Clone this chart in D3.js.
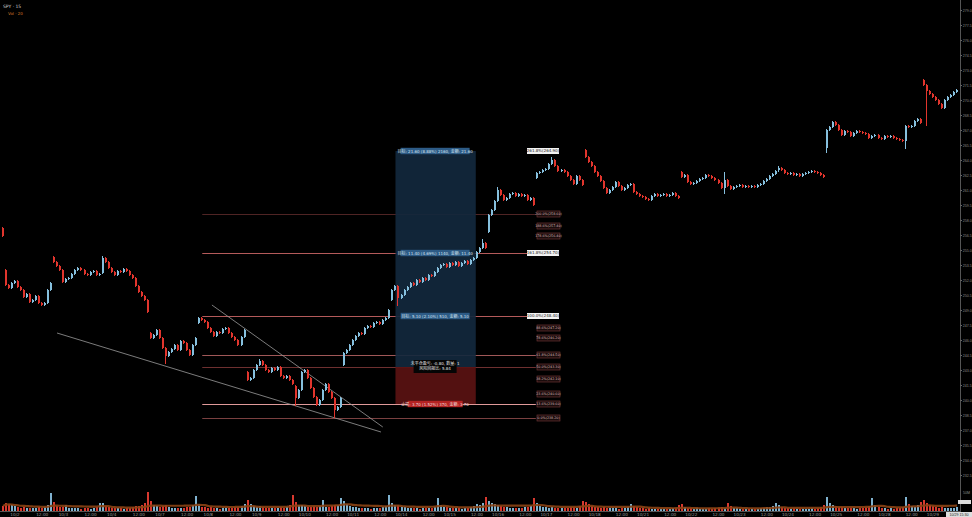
<!DOCTYPE html>
<html><head><meta charset="utf-8">
<script src="https://cdn.jsdelivr.net/npm/d3@7"></script>
<style>html,body{margin:0;padding:0;background:#000;overflow:hidden}svg{display:block}</style>
</head><body>
<svg id="c" width="972" height="517"></svg>
<script>
// ---------------- DATA ----------------
const closes = [
256.4,
251.5,251.2,251.7,251.9,251.3,251.0,250.3,250.6,249.8,250.0,250.4,249.7,249.5,249.7,251.0,251.7,
253.8,253.4,253.0,251.8,252.1,252.2,252.6,253.0,253.2,253.0,252.6,252.5,252.8,252.9,252.5,252.6,
254.2,253.8,253.2,252.8,252.5,252.9,252.8,253.1,252.9,252.5,252.2,251.4,250.8,250.4,250.0,248.8,
246.2,246.5,247.0,246.2,245.2,244.4,244.8,245.1,245.5,245.0,245.9,245.7,245.0,244.5,245.5,246.2,
248.2,248.0,247.8,247.2,246.8,246.4,246.8,246.7,247.1,247.2,246.7,246.3,246.0,245.5,246.3,247.0,
242.0,242.2,243.0,243.5,243.9,243.5,243.0,242.8,243.2,243.0,243.3,242.4,242.2,242.4,242.0,241.6,
240.2,241.0,242.8,243.0,242.2,241.2,240.3,239.5,240.0,241.0,241.6,240.8,240.2,239.0,239.3,240.2,
244.7,245.0,245.5,246.0,246.4,246.7,246.6,247.2,247.4,247.3,247.7,247.8,247.6,248.0,248.2,249.0,
251.0,251.4,250.2,250.5,251.0,251.3,251.7,251.5,252.0,251.8,252.2,252.0,252.5,252.4,252.8,253.2,
253.5,253.6,253.3,253.7,253.5,253.8,253.4,253.7,253.9,253.6,254.0,254.2,254.8,255.2,255.7,255.2,
258.5,259.0,259.9,261.0,260.5,260.0,260.2,260.6,260.7,260.4,260.6,260.4,260.5,260.0,260.2,259.5,
262.7,262.8,263.0,263.1,263.6,264.0,263.4,262.9,263.0,262.8,262.4,262.0,261.6,262.4,262.0,261.5,
264.3,263.8,263.4,262.8,262.4,261.9,261.2,260.7,261.0,261.3,261.8,261.4,261.0,261.2,261.5,261.6,
260.8,260.6,260.4,260.3,260.1,260.0,260.4,260.6,260.4,260.5,260.6,260.4,260.5,260.7,260.4,260.2,
262.3,262.5,261.8,261.6,261.7,261.9,262.1,262.2,262.5,262.4,262.2,262.0,261.7,261.2,262.0,261.4,
261.1,261.3,261.4,261.5,261.3,261.4,261.3,261.4,261.3,261.5,261.6,261.9,262.1,262.4,262.6,262.9,
263.2,263.0,262.7,262.6,262.7,262.5,262.6,262.4,262.6,262.7,262.8,262.9,262.8,262.7,262.5,262.3,
267.0,267.3,267.8,267.5,267.0,266.5,266.9,266.8,266.4,266.7,266.9,266.8,266.7,266.6,266.2,266.4,
266.5,266.2,266.1,266.4,266.3,266.4,266.2,266.1,266.0,265.9,267.4,267.3,267.4,267.9,268.1,267.7,
271.5,270.9,270.6,270.3,270.0,269.6,269.2,270.0,270.3,270.5,270.8,271.0
];
// index of first bar in each session and that bar's open
const sessionStarts = [0,1,17,33,49,65,81,97,113,129,145,161,177,193,209,225,241,257,273,289,305];
const sessionOpens  = [257.2,253.0,254.3,252.7,246.7,247.7,242.8,241.4,243.5,250.0,253.2,256.8,262.2,265.0,261.6,262.8,261.4,263.0,265.2,266.4,272.0];
// bars with visible long wicks: [index, high, low]
const wicks = [[33,254.3,252.7],[54,245.2,243.7],[85,244.0,243.5],[97,241.4,239.5],[110,240.2,238.3],
  [131,251.4,249.5],[159,256.0,255.2],[164,261.2,259.9],[182,264.2,263.6],[239,262.7,260.7],
  [257,263.3,262.9],[273,267.0,264.8],[299,267.4,265.2],[306,271.5,267.5]];
const volumes = [
20,
30,28,22,18,14,12,16,12,10,12,10,14,12,16,22,72,
34,20,16,14,24,12,10,12,10,8,12,10,8,10,14,32,
30,18,14,12,10,12,10,8,10,12,14,18,20,24,30,76,
40,24,18,16,20,22,14,12,10,12,10,12,14,16,22,60,
26,16,14,12,14,12,10,8,10,12,10,12,14,16,18,28,
44,26,20,16,18,14,12,10,12,10,12,14,12,16,22,64,
34,22,24,18,16,14,18,16,20,44,16,14,18,22,24,52,
40,26,20,16,14,12,10,12,10,8,10,12,10,14,20,64,
30,24,22,16,14,12,10,12,10,8,10,12,10,12,16,52,
24,16,14,12,10,12,10,8,10,12,14,18,28,24,30,56,
40,30,26,24,20,16,14,12,10,12,10,12,14,16,20,52,
30,20,16,14,12,14,12,10,12,10,12,14,16,12,18,40,
36,26,20,16,14,12,14,12,10,12,10,8,10,12,14,28,
20,14,12,10,8,10,8,6,8,6,8,6,8,10,12,24,
26,16,12,10,8,10,8,6,8,10,8,10,12,14,12,32,
18,12,10,8,6,8,6,8,6,8,10,12,14,16,18,32,
24,16,12,10,8,10,8,6,8,6,8,10,8,10,14,22,
56,32,24,20,16,14,12,10,12,10,8,10,12,14,18,52,
24,16,12,10,8,10,8,10,12,14,56,28,20,16,22,36,
44,30,22,18,14,12,14,12,10,12,10,14
];
const dateLabels = ["10/2","10/3","10/4","10/7","10/8","10/9","10/10","10/11","10/14","10/15",
  "10/16","10/17","10/18","10/21","10/22","10/23","10/24","10/25","10/28","10/29"];
const midLabel = "12:00";
const priceTicks = [279,277.5,276,274.5,273,271.5,270,268.5,267,265.5,264,262.5,261,259.5,258,256.5,
  255,253.5,252,250.5,249,247.5,246,244.5,243,241.5,240,238.5,237,235.5,234,232.5];
// fib levels
const fibPct    = [0,13.6,23.6,38.2,50,61.8,78.6,88.6,100,161.8,178.6,188.6,200,261.8];
const fibPrices = [238.2,239.6,240.6,242.1,243.3,244.5,246.2,247.2,248.4,254.7,256.4,257.4,258.6,264.9];
const fibLinePct = [0,13.6,50,61.8,100,161.8,200];
const fibMainPct = [100,161.8,261.8];
const fibRange = [66, 176.5];          // bar-index span of fib drawing
// trend lines [idxA, priceA, idxB, priceB]
const trendLines = [[17.9,246.7,125.2,236.8],[69.2,249.5,125.8,237.3]];
// long position tool
const posRange = [130, 156.6];
const entryPrice = 243.3, stopPrice = 239.6;
const targetPrices = [248.4, 254.7, 264.9];
const targetTexts = ["目标: 5.10 (2.10%) 510, 金额: 5.10","目标: 11.40 (4.69%) 1140, 金额: 11.40","目标: 21.60 (8.88%) 2160, 金额: 21.60"];
const stopText = "止损: 3.70 (1.52%) 370, 金额: 3.70";
const centerTexts = ["未平仓盈亏: -0.80, 数量: 1","风险回报比: 5.84"];

// ---------------- DRAW ----------------
const W = 972, H = 517;
const svg = d3.select("#c");
svg.append("rect").attr("width", W).attr("height", H).attr("fill", "#000");
const x = d3.scaleLinear().domain([0, 316]).range([3, 957]);
const y = d3.scaleLinear().domain([280, 232]).range([0, 480]);
const yv = d3.scaleLinear().domain([0, 90]).range([511, 488]);
const UP = "#86c0de", DN = "#e1352d";
const FONT = "'DejaVu Sans', 'Noto Sans CJK SC', sans-serif";
const AXF = "'Liberation Sans', Arial, sans-serif";
const AXX = 960.5;

const candles = closes.map((c, i) => {
  const k = sessionStarts.indexOf(i);
  const o = k >= 0 ? sessionOpens[k] : closes[i - 1];
  return { i, o, c, h: Math.max(o, c), l: Math.min(o, c), v: volumes[i] };
});
wicks.forEach(([i, h, l]) => { candles[i].h = Math.max(candles[i].h, h); candles[i].l = Math.min(candles[i].l, l); });

// fib lines
const fibColor = { 0: "#7a4040", 13.6: "#e09a9a", 50: "#6e3030", 61.8: "#a05858", 100: "#b45a5a", 161.8: "#b45a5a", 200: "#4f2424" };
const gFib = svg.append("g");
fibPct.forEach((p, k) => {
  if (!fibLinePct.includes(p)) return;
  const yy = Math.round(y(fibPrices[k])) + 0.5;
  gFib.append("line").attr("x1", x(fibRange[0])).attr("x2", x(fibRange[1])).attr("y1", yy).attr("y2", yy)
    .attr("stroke", fibColor[p]).attr("stroke-width", 1);
});

// position tool boxes
const px0 = x(posRange[0]), px1 = x(posRange[1]);
svg.append("rect").attr("x", px0).attr("width", px1 - px0).attr("y", y(d3.max(targetPrices)))
  .attr("height", y(entryPrice) - y(d3.max(targetPrices))).attr("fill", "#12283d").attr("opacity", 0.92);
svg.append("rect").attr("x", px0).attr("width", px1 - px0).attr("y", y(entryPrice))
  .attr("height", y(stopPrice) - y(entryPrice)).attr("fill", "#5a1212").attr("opacity", 0.92);

// trend lines
trendLines.forEach(t => {
  svg.append("line").attr("x1", x(t[0])).attr("y1", y(t[1])).attr("x2", x(t[2])).attr("y2", y(t[3]))
    .attr("stroke", "#9b9b9b").attr("stroke-width", 0.8);
});

// candles
const gC = svg.append("g").attr("shape-rendering", "crispEdges");
candles.forEach(d => {
  const col = d.c >= d.o ? UP : DN;
  const cx = Math.round(x(d.i));
  gC.append("line").attr("x1", cx - 0.5).attr("x2", cx - 0.5)
    .attr("y1", y(d.h) - 1).attr("y2", y(d.l) + 1).attr("stroke", col).attr("stroke-width", 1);
  const top = y(Math.max(d.o, d.c)), bot = y(Math.min(d.o, d.c));
  gC.append("rect").attr("x", cx - 1).attr("width", 2).attr("y", top)
    .attr("height", Math.max(1, bot - top)).attr("fill", col);
});

// volume
const gV = svg.append("g").attr("shape-rendering", "crispEdges");
candles.forEach(d => {
  const cx = Math.round(x(d.i));
  gV.append("rect").attr("x", cx - 1).attr("width", 2).attr("y", yv(d.v))
    .attr("height", yv(0) - yv(d.v)).attr("fill", d.c >= d.o ? "#7fb2cf" : "#d8392f");
});
const ma = candles.map((d, i) => ({ i, v: d3.mean(volumes.slice(Math.max(0, i - 19), i + 1)) }));
svg.append("path").datum(ma).attr("fill", "none").attr("stroke", "#8a4314").attr("stroke-width", 2.2)
  .attr("opacity", 0.9).attr("d", d3.line().x(d => x(d.i)).y(d => yv(d.v)).curve(d3.curveMonotoneX));

// bottom axis line + time labels
svg.append("line").attr("x1", 0).attr("x2", AXX).attr("y1", 511.5).attr("y2", 511.5).attr("stroke", "#555");
const gT = svg.append("g").attr("font-family", FONT).attr("font-size", 4.2).attr("fill", "#9a9a9a").attr("text-anchor", "middle");
dateLabels.forEach((lab, k) => {
  const s = sessionStarts[k + 1];
  gT.append("text").attr("x", x(s + 3)).attr("y", 516).text(lab);
  if (s + 12 <= 316) gT.append("text").attr("x", x(s + 12)).attr("y", 516).text(midLabel);
});

// right price axis
svg.append("line").attr("x1", AXX).attr("x2", AXX).attr("y1", 0).attr("y2", H).attr("stroke", "#555");
const ax = svg.append("g").attr("transform", `translate(${AXX},0)`)
  .call(d3.axisRight(y).tickValues(priceTicks).tickFormat(d3.format(".1f")).tickSize(1.5).tickPadding(0.8));
ax.select(".domain").remove();
ax.selectAll("line").attr("stroke", "#666");
ax.selectAll("text").attr("fill", "#8c8c8c").attr("font-size", 3.6).attr("font-family", AXF);
svg.append("text").attr("x", 963).attr("y", 494).attr("font-size", 3.6).attr("fill", "#8c8c8c").attr("font-family", AXF).text("50M");
svg.append("rect").attr("x", 958).attr("y", 500).attr("width", 13).attr("height", 4).attr("fill", "#ddd");
svg.append("rect").attr("x", 946).attr("y", 512).attr("width", 26).attr("height", 5).attr("fill", "#ddd");
svg.append("text").attr("x", 959).attr("y", 516).attr("font-size", 3.6).attr("text-anchor", "middle").attr("fill", "#222").attr("font-family", AXF).text("10/29 15:30");

// fib tags on right
const gTag = svg.append("g").attr("font-family", FONT);
fibPct.forEach((p, k) => {
  const yy = y(fibPrices[k]);
  const main = fibMainPct.includes(p);
  const txt = p.toFixed(1) + "%(" + fibPrices[k].toFixed(2) + ")";
  const bx = main ? 527 : 537, bw = main ? 32 : 23;
  gTag.append("rect").attr("x", bx).attr("y", yy - 3).attr("width", bw).attr("height", 6)
    .attr("fill", main ? "#f2f2f2" : "#1a0c0c").attr("stroke", main ? "none" : "#7a3b3b").attr("stroke-width", 0.6);
  gTag.append("text").attr("x", bx + bw / 2).attr("y", yy + 1.4).attr("text-anchor", "middle")
    .attr("font-size", main ? 4 : 3.3).attr("fill", main ? "#222" : "#d8b8b8").text(txt);
});

// position tool labels
const gP = svg.append("g").attr("font-family", FONT).attr("text-anchor", "middle");
const pcx = (px0 + px1) / 2;
targetPrices.forEach((tp, k) => {
  const yy = y(tp);
  gP.append("rect").attr("x", pcx - 35).attr("y", yy - 3.2).attr("width", 69).attr("height", 6.4).attr("fill", "#2d5b86");
  gP.append("text").attr("x", pcx - 0.5).attr("y", yy + 1.5).attr("font-size", 4).attr("fill", "#d6e4f0").text(targetTexts[k]);
});
const sy = y(stopPrice);
gP.append("rect").attr("x", pcx - 28).attr("y", sy - 3.2).attr("width", 55).attr("height", 6.4).attr("fill", "#b52323");
gP.append("text").attr("x", pcx - 0.5).attr("y", sy + 1.5).attr("font-size", 4).attr("fill", "#f4dede").text(stopText);
const ey = y(entryPrice);
gP.append("rect").attr("x", pcx - 22).attr("y", ey - 7).attr("width", 43).attr("height", 13).attr("fill", "#050505");
centerTexts.forEach((t, k) => {
  gP.append("text").attr("x", pcx - 0.5).attr("y", ey - 2.2 + k * 5.2).attr("font-size", 4).attr("fill", "#e8e8e8").text(t);
});

// header
svg.append("text").attr("x", 3).attr("y", 8).attr("font-size", 4.5).attr("fill", "#d0d0d0").attr("font-family", FONT).text("SPY · 15");
svg.append("text").attr("x", 8).attr("y", 15).attr("font-size", 4).attr("fill", "#d4782a").attr("font-family", FONT).text("Vol · 20");
</script>
</body></html>
